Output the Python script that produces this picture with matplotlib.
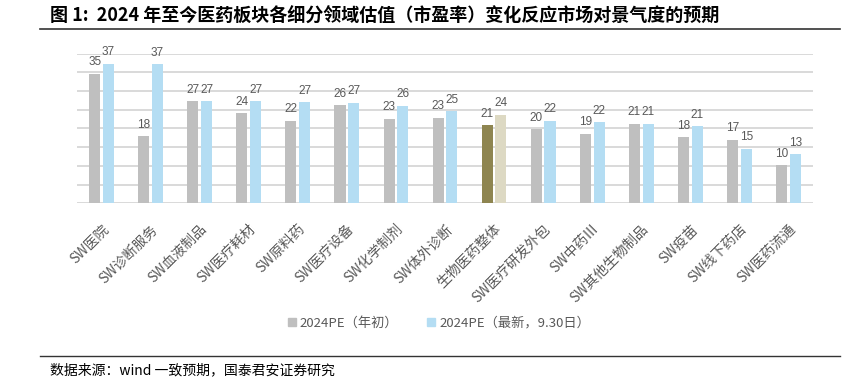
import matplotlib
matplotlib.use('Agg')
import matplotlib.pyplot as plt
from matplotlib.patches import Patch
import numpy as np

plt.rcParams['font.family'] = ['Noto Sans CJK SC', 'DejaVu Sans']

# 数据
categories = ['SW医院', 'SW诊断服务', 'SW血液制品', 'SW医疗耗材', 'SW原料药',
              'SW医疗设备', 'SW化学制剂', 'SW体外诊断', '生物医药整体',
              'SW医疗研发外包', 'SW中药Ⅲ', 'SW其他生物制品', 'SW疫苗',
              'SW线下药店', 'SW医药流通']
pe_start = [34.6, 17.9, 27.2, 24.0, 22.1, 26.2, 22.6, 22.8, 20.8,
            19.8, 18.6, 21.2, 17.6, 16.9, 10.1]
pe_latest = [37.3, 37.1, 27.2, 27.2, 27.0, 26.8, 26.0, 24.6, 23.7,
             22.1, 21.6, 21.2, 20.6, 14.6, 13.1]
highlight = '生物医药整体'
legend_labels = ['2024PE（年初）', '2024PE（最新，9.30日）']

GRAY = '#BFBFBF'
BLUE = '#B4DDF3'
OLIVE = '#8E8550'
BEIGE = '#DDD9C3'
TXT = '#595959'

fig = plt.figure(figsize=(8.59, 3.85), dpi=100)
ax = fig.add_axes([77 / 859, 1 - 203.3 / 385, (813 - 77) / 859, (203.3 - 53.5) / 385])

x = np.arange(len(categories))
w = 0.225
c1 = [OLIVE if c == highlight else GRAY for c in categories]
c2 = [BEIGE if c == highlight else BLUE for c in categories]
b1 = ax.bar(x - 0.14, pe_start, w, color=c1, zorder=3)
b2 = ax.bar(x + 0.14, pe_latest, w, color=c2, zorder=3)

for bars, vals in [(b1, pe_start), (b2, pe_latest)]:
    for r, v in zip(bars, vals):
        ax.annotate(f'{round(v):d}', (r.get_x() + r.get_width() / 2, v),
                    xytext=(0, 4), textcoords='offset points',
                    ha='center', va='bottom', fontsize=8.5, color=TXT,
                    family=['Liberation Sans', 'DejaVu Sans'])

ax.set_xlim(-0.5, len(categories) - 0.5)
ax.set_ylim(0, 40)
ax.set_yticks(np.arange(0, 41, 5))
ax.yaxis.grid(True, color='#D9D9D9', linewidth=1.4, zorder=0)
ax.tick_params(axis='y', left=False, labelleft=False)
ax.tick_params(axis='x', bottom=False, pad=10)
for s in ax.spines.values():
    s.set_visible(False)

ax.set_xticks(x)
ax.set_xticklabels(categories, rotation=45, ha='right', va='top',
                   rotation_mode='anchor', fontsize=10, color=TXT)

handles = [Patch(color=GRAY), Patch(color=BLUE)]
fig.legend(handles, legend_labels,
           loc='center', bbox_to_anchor=(439 / 859, 1 - 323 / 385), ncol=2,
           frameon=False, fontsize=9.5, handlelength=0.6, handleheight=0.6,
           handletextpad=0.3, columnspacing=2.2, labelcolor=TXT)

# 标题与来源
fig.text(50 / 859, 1 - 16 / 385,
         '图 1:  2024 年至今医药板块各细分领域估值（市盈率）变化反应市场对景气度的预期',
         fontsize=13, fontweight='bold', va='center', ha='left', color='black')
fig.add_artist(plt.Line2D([40 / 859, 840 / 859], [1 - 28.5 / 385] * 2,
                          color='#333333', linewidth=1.2, transform=fig.transFigure))
fig.add_artist(plt.Line2D([40 / 859, 840 / 859], [1 - 356 / 385] * 2,
                          color='#333333', linewidth=1.0, transform=fig.transFigure))
fig.text(50 / 859, 1 - 370 / 385, '数据来源：wind 一致预期，国泰君安证券研究',
         fontsize=10, va='center', ha='left', color='black')

fig.savefig('out.png', dpi=100)
